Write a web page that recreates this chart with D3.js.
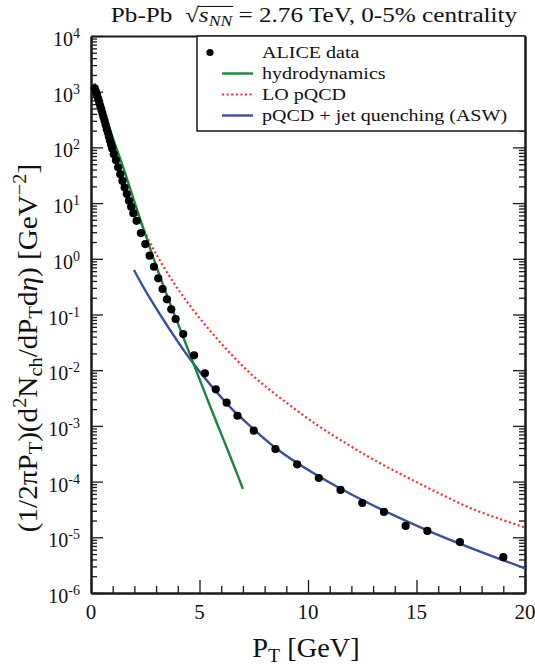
<!DOCTYPE html>
<html>
<head>
<meta charset="utf-8">
<script src="https://cdn.jsdelivr.net/npm/d3@7"></script>
<style>
	body { margin: 0; background: #fff; }
	svg { display: block; }
</style>
</head>
<body>
<svg id="chart" width="535" height="666"></svg>
<script>
// ALICE data (pT in GeV, yield in GeV^-2)
const alicePt = [0.175, 0.225, 0.275, 0.325, 0.375, 0.425, 0.475, 0.525, 0.575, 0.625,
	0.675, 0.725, 0.775, 0.825, 0.875, 0.925, 0.975, 1.05, 1.15, 1.25, 1.35, 1.45, 1.55,
	1.65, 1.75, 1.85, 1.95, 2.1, 2.3, 2.5, 2.7, 2.9, 3.1, 3.3, 3.5, 3.7, 3.9, 4.25, 4.75,
	5.25, 5.75, 6.25, 6.75, 7.5, 8.5, 9.5, 10.5, 11.5, 12.5, 13.5, 14.5, 15.5, 17, 19];
const aliceYield = [1150, 1000, 880, 760, 660, 560, 480, 410, 350, 300,
	255, 215, 185, 157, 133, 113, 96, 75, 59, 44, 33, 25, 19,
	14.5, 11, 8.6, 6.6, 4.8, 2.9, 1.84, 1.14, 0.72, 0.447, 0.287, 0.1875, 0.124, 0.083, 0.0447, 0.0185,
	0.0088, 0.00454, 0.00261, 0.00152, 8.2e-4, 3.85e-4, 2.04e-4, 1.16e-4, 7.1e-5, 4.13e-5, 2.85e-5, 1.6e-5, 1.3e-5, 8.2e-6, 4.4e-6];

// Hydrodynamics curve
const hydroPt = [0.15, 0.5, 1.0, 1.5, 2.0, 2.5, 3.0, 3.5, 4.0, 4.5, 5.0, 5.5, 6.0, 6.5, 7.0];
const hydroYield = [1420, 560, 150, 42, 10.5, 2.8, 0.75, 0.22, 0.07, 0.022, 0.0069, 0.0022, 7.2e-4, 2.35e-4, 7.4e-5];

// LO pQCD curve
const loPt = [2.1, 2.95, 4.25, 5.8, 7.35, 8.85, 10.4, 11.85, 13.0, 14.55, 16.1, 17.6, 20];
const loYield = [6.3, 1.32, 0.209, 0.037, 8.7e-3, 2.9e-3, 1.05e-3, 4.6e-4, 2.5e-4, 1.2e-4, 6.0e-5, 3.2e-5, 1.5e-5];

// pQCD + jet quenching (ASW) curve
const aswPt = [1.98, 2.72, 4.71, 6.4, 6.87, 8.63, 11.47, 15.47, 20];
const aswYield = [0.63, 0.195, 0.0133, 2.2e-3, 1.46e-3, 3.7e-4, 7.6e-5, 1.35e-5, 2.77e-6];

// Axis ticks
const xMajorTicks = [0, 5, 10, 15, 20];
const xMinorTicks = [1, 2, 3, 4, 6, 7, 8, 9, 11, 12, 13, 14, 16, 17, 18, 19];
const yExponents = [-6, -5, -4, -3, -2, -1, 0, 1, 2, 3, 4];

// Legend
const legendLabels = ["ALICE data", "hydrodynamics", "LO pQCD", "pQCD + jet quenching (ASW)"];

// Init parameters
var fig = {};
fig.font = "'Liberation Serif', serif";
fig.colors = { hydro: "#16873c", lo: "#ff2b2b", asw: "#3b4fa0", axis: "#1a1a1a" };
fig.box = { left: 91, right: 525, top: 36, bottom: 593 };

// Write text made of pieces (sub / sup / italic) as one group, stretched by sx
fig.richText = (parent, pieces, size, sx) => {
	sx = sx || 1;
	let g = parent.append("g");
	let inner = g.append("g").attr("transform", "scale(" + sx + ",1)");
	let x = 0;
	let spans = [];
	pieces.forEach((p) => {
		let fs = p.s ? size * 0.7 : size;
		let dy = p.s == "sub" ? size * 0.2 : (p.s == "sup" ? -size * 0.4 : 0);
		let t = inner.append("text")
			.attr("x", x)
			.attr("y", dy)
			.style("font-family", fig.font)
			.style("font-size", fs + "px")
			.style("font-style", p.i ? "italic" : "normal")
			.style("white-space", "pre")
			.attr("fill", "#111")
			.text(p.t);
		let w = t.node().getComputedTextLength();
		spans.push({ x0: x * sx, x1: (x + w) * sx });
		x += w;
	});
	g.width = x * sx;
	g.spans = spans;
	return g;
}

fig.draw = () => {
	let svg = d3.select("#chart");
	let b = fig.box;

	let x = d3.scaleLinear().domain([0, 20]).range([b.left, b.right]),
		y = d3.scaleLog().domain([1e-6, 1e4]).range([b.bottom, b.top]);

	let yMajor = yExponents.map((e) => Math.pow(10, e));
	let yMinor = [];
	yExponents.slice(0, -1).forEach((e) => {
		for (let k = 2; k <= 9; k++) yMinor.push(k * Math.pow(10, e));
	});

	// Axes (ticks pointing inwards)
	const styleAxis = (sel) => {
		sel.selectAll("path, line").attr("stroke", fig.colors.axis);
		sel.select(".domain").attr("stroke-width", 2);
		sel.selectAll(".tick line").attr("stroke-width", 1.3);
		sel.selectAll("text").remove();
	};
	svg.append("g").attr("transform", "translate(" + b.left + ",0)")
		.call(d3.axisLeft(y).tickValues(yMajor).tickSize(-12).tickSizeOuter(0)).call(styleAxis);
	svg.append("g").attr("transform", "translate(" + b.left + ",0)")
		.call(d3.axisLeft(y).tickValues(yMinor).tickSize(-6).tickSizeOuter(0)).call(styleAxis);
	svg.append("g").attr("transform", "translate(" + b.right + ",0)")
		.call(d3.axisRight(y).tickValues(yMajor).tickSize(-12).tickSizeOuter(0)).call(styleAxis);
	svg.append("g").attr("transform", "translate(" + b.right + ",0)")
		.call(d3.axisRight(y).tickValues(yMinor).tickSize(-6).tickSizeOuter(0)).call(styleAxis);
	svg.append("g").attr("transform", "translate(0," + b.bottom + ")")
		.call(d3.axisBottom(x).tickValues(xMajorTicks).tickSize(-13).tickSizeOuter(0)).call(styleAxis);
	svg.append("g").attr("transform", "translate(0," + b.bottom + ")")
		.call(d3.axisBottom(x).tickValues(xMinorTicks).tickSize(-7).tickSizeOuter(0)).call(styleAxis);
	svg.append("g").attr("transform", "translate(0," + b.top + ")")
		.call(d3.axisTop(x).tickValues([]).tickSizeOuter(0)).call(styleAxis);

	// Tick labels
	xMajorTicks.forEach((v) => {
		let t = fig.richText(svg, [{ t: String(v) }], 21);
		t.attr("transform", "translate(" + (x(v) - t.width / 2) + ",619)");
	});
	yExponents.forEach((e) => {
		let t = fig.richText(svg, [{ t: "10" }, { t: String(e), s: "sup" }], 20);
		t.attr("transform", "translate(" + (80 - t.width) + "," + (y(Math.pow(10, e)) + 10) + ")");
	});

	// Curves
	let line = d3.line()
		.x((d) => x(d[0]))
		.y((d) => y(d[1]))
		.curve(d3.curveCatmullRom.alpha(0.5));

	svg.append("path")
		.datum(d3.zip(loPt, loYield))
		.attr("d", line)
		.attr("fill", "none")
		.attr("stroke", fig.colors.lo)
		.attr("stroke-width", 2.2)
		.attr("stroke-dasharray", "2,2.6");
	svg.append("path")
		.datum(d3.zip(aswPt, aswYield))
		.attr("d", line)
		.attr("fill", "none")
		.attr("stroke", fig.colors.asw)
		.attr("stroke-width", 2.4);
	svg.append("path")
		.datum(d3.zip(hydroPt, hydroYield))
		.attr("d", line)
		.attr("fill", "none")
		.attr("stroke", fig.colors.hydro)
		.attr("stroke-width", 2.4);

	// ALICE points
	svg.selectAll(".pt")
		.data(d3.zip(alicePt, aliceYield))
		.enter()
		.append("circle")
		.attr("class", "pt")
		.attr("cx", (d) => x(d[0]))
		.attr("cy", (d) => y(d[1]))
		.attr("r", 4.1)
		.attr("fill", "#000");

	// Legend
	let lg = svg.append("g");
	lg.append("rect")
		.attr("x", 197).attr("y", b.top)
		.attr("width", b.right - 197).attr("height", 95)
		.attr("fill", "#fff")
		.attr("stroke", fig.colors.axis)
		.attr("stroke-width", 1.5);
	let rowY = [52.5, 73.5, 94.5, 115.5];
	lg.append("circle").attr("cx", 210).attr("cy", rowY[0]).attr("r", 3.6).attr("fill", "#000");
	lg.append("line").attr("x1", 222).attr("x2", 253).attr("y1", rowY[1]).attr("y2", rowY[1])
		.attr("stroke", fig.colors.hydro).attr("stroke-width", 2.4);
	lg.append("line").attr("x1", 222).attr("x2", 253).attr("y1", rowY[2]).attr("y2", rowY[2])
		.attr("stroke", fig.colors.lo).attr("stroke-width", 2.2).attr("stroke-dasharray", "2,2.6");
	lg.append("line").attr("x1", 222).attr("x2", 253).attr("y1", rowY[3]).attr("y2", rowY[3])
		.attr("stroke", fig.colors.asw).attr("stroke-width", 2.4);
	legendLabels.forEach((d, i) => {
		let t = fig.richText(lg, [{ t: d }], 17, 1.18);
		t.attr("transform", "translate(262," + (rowY[i] + 5.5) + ")");
	});

	// Title
	let tsize = 21;
	let title = fig.richText(svg, [
		{ t: "Pb-Pb  " }, { t: "\u221A" }, { t: "s", i: true }, { t: "NN", i: true, s: "sub" },
		{ t: " = 2.76 TeV, 0-5% centrality" }], tsize, 1.2);
	title.attr("transform", "translate(" + (314 - title.width / 2) + ",22)");
	let s0 = title.spans[2], s1 = title.spans[3];
	title.append("line")
		.attr("x1", s0.x0 - 1).attr("x2", s1.x1 + 1)
		.attr("y1", -tsize * 0.74).attr("y2", -tsize * 0.74)
		.attr("stroke", "#111").attr("stroke-width", 1);

	// X axis title
	let xt = fig.richText(svg, [{ t: "P" }, { t: "T", s: "sub" }, { t: " [GeV]" }], 27, 1.05);
	xt.attr("transform", "translate(" + (306 - xt.width / 2) + ",657)");

	// Y axis title
	let yg = svg.append("g").attr("transform", "translate(37,348) rotate(-90)");
	let yt = fig.richText(yg, [
		{ t: "(1/2\u03C0P" }, { t: "T", s: "sub" }, { t: ")(d" }, { t: "2", s: "sup" },
		{ t: "N" }, { t: "ch", s: "sub" }, { t: "/dP" }, { t: "T", s: "sub" }, { t: "d" },
		{ t: "\u03B7", i: true }, { t: ") [GeV" }, { t: "\u22122", s: "sup" }, { t: "]" }], 27, 1.08);
	yt.attr("transform", "translate(" + (-yt.width / 2) + ",0)");
}

fig.draw();
</script>
</body>
</html>
